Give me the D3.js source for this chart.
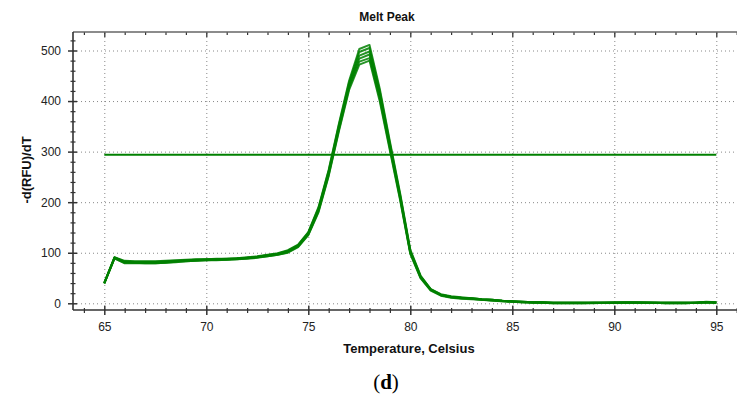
<!DOCTYPE html>
<html>
<head>
<meta charset="utf-8">
<script src="https://cdn.jsdelivr.net/npm/d3@7"></script>
<style>
  html, body { margin: 0; padding: 0; background: #fff; }
  svg { display: block; font-family: "Liberation Sans", Arial, sans-serif; }
</style>
</head>
<body>
<svg id="chart" width="737" height="394"></svg>
<script>
// ---------------- DATA ----------------
const chartTitle = "Melt Peak";
const xAxisTitle = "Temperature, Celsius";
const yAxisTitle = "-d(RFU)/dT";
const caption = "d";

const temperatures = [65,65.5,66,66.5,67,67.5,68,68.5,69,69.5,70,70.5,71,71.5,72,72.5,73,73.5,74,74.5,
  75,75.5,76,76.5,77,77.5,78,78.5,79,79.5,80,80.5,81,81.5,82,82.5,83,83.5,84,84.5,
  85,85.5,86,86.5,87,87.5,88,88.5,89,89.5,90,90.5,91,91.5,92,92.5,93,93.5,94,94.5,95];

const rep1 = [40,91,84,83,83,83,84,85,86,87,87,88,88,89,91,93,96,99,105,116,141,190,264,355,440,503,511,425,320,218,106,55,28,18,14,12,10,8,7,5,4,3,2,2,1,1,1,1,1,1,1,1,1,1,1,1,1,1,1,2,1];
const rep2 = [40,90,83,82,82,82,83,84,85,86,87,87,88,89,90,92,95,98,104,115,140,188,262,352,436,497,505,420,316,215,104,54,28,17,13,11,10,8,7,5,4,3,2,2,1,1,1,1,1,1,2,2,2,1,1,1,1,1,1,2,2];
const rep3 = [41,91,82,81,81,81,82,83,85,86,86,87,87,88,90,92,95,98,103,114,139,186,259,349,432,490,498,415,312,212,102,53,27,17,13,11,10,8,7,5,4,3,2,2,1,1,1,1,1,1,1,1,1,1,1,1,1,1,1,2,1];
const rep4 = [40,90,81,80,80,80,81,83,84,85,86,86,87,88,89,91,94,97,102,113,137,184,257,346,430,484,492,410,310,210,101,52,27,16,12,10,9,7,6,5,3,2,2,1,1,1,1,1,1,1,1,2,2,2,1,1,1,1,1,3,2];
const rep5 = [39,89,80,80,79,79,80,82,83,84,85,86,86,87,89,91,93,96,101,112,136,182,254,343,426,478,485,405,306,207,99,51,26,16,12,10,9,7,6,4,3,2,1,1,0,0,0,0,1,1,1,1,1,1,1,0,0,0,1,2,1];
const rep6 = [40,89,79,79,79,79,80,81,83,84,85,85,86,87,88,90,93,96,100,111,135,180,252,340,422,472,480,400,302,204,98,50,25,15,11,9,8,7,5,4,3,2,1,1,0,0,0,0,0,1,1,1,1,1,1,0,0,0,1,2,1];
const replicates = [rep1, rep2, rep3, rep4, rep5, rep6];

const thresholdValue = 294;
const thresholdRange = [65, 95];

const xMajorTicks = [65,70,75,80,85,90,95];
const xMinorTicks = [64,66,67,68,69,71,72,73,74,76,77,78,79,81,82,83,84,86,87,88,89,91,92,93,94,96];
const yMajorTicks = [0,100,200,300,400,500];
const yMinorTicks = [20,40,60,80,120,140,160,180,220,240,260,280,320,340,360,380,420,440,460,480,520];

// ---------------- LAYOUT ----------------
const svg = d3.select("#chart");
const plotLeft = 73, plotRight = 737, plotTop = 32, plotBottom = 310;

const x = d3.scaleLinear().domain([65, 95]).range([104.3, 716.3]);
const y = d3.scaleLinear().domain([0, 500]).range([303.3, 50.5]);

const green = "#008000";
const sans = "'Liberation Sans', Arial, sans-serif";

// gridlines (dotted)
const grid = svg.append("g").attr("class", "grid");
grid.append("g")
  .attr("transform", `translate(0,${plotBottom})`)
  .call(d3.axisBottom(x).tickValues(xMajorTicks).tickSize(-(plotBottom - plotTop)).tickFormat(""))
  .call(g => g.select(".domain").remove())
  .call(g => g.selectAll("line").attr("stroke", "#888").attr("stroke-width", 1).attr("stroke-dasharray", "1,3"));
grid.append("g")
  .attr("transform", `translate(${plotLeft},0)`)
  .call(d3.axisLeft(y).tickValues(yMajorTicks).tickSize(-(plotRight - plotLeft)).tickFormat(""))
  .call(g => g.select(".domain").remove())
  .call(g => g.selectAll("line").attr("stroke", "#888").attr("stroke-width", 1).attr("stroke-dasharray", "1,3"));

// threshold line
svg.append("line")
  .attr("x1", x(thresholdRange[0])).attr("x2", x(thresholdRange[1]))
  .attr("y1", y(thresholdValue)).attr("y2", y(thresholdValue))
  .attr("stroke", green).attr("stroke-width", 2);

// curves
const line = d3.line().x((d, i) => x(temperatures[i])).y(d => y(d));
svg.append("g").selectAll("path").data(replicates).join("path")
  .attr("d", line)
  .attr("fill", "none")
  .attr("stroke", green)
  .attr("stroke-width", 2)
  .attr("stroke-opacity", 0.85)
  .attr("stroke-linejoin", "round");

// axes
const axisColor = "#333";
function styleTicks(g, w) {
  g.select(".domain").remove();
  g.selectAll("line").attr("stroke", axisColor).attr("stroke-width", w);
}
// bottom axis ticks crossing
svg.append("g").attr("transform", `translate(0,${plotBottom})`)
  .call(d3.axisBottom(x).tickValues(xMajorTicks).tickSize(5).tickFormat(""))
  .call(g => styleTicks(g, 1.5));
svg.append("g").attr("transform", `translate(0,${plotBottom})`)
  .call(d3.axisTop(x).tickValues(xMajorTicks).tickSize(4).tickFormat(""))
  .call(g => styleTicks(g, 1.5));
svg.append("g").attr("transform", `translate(0,${plotBottom})`)
  .call(d3.axisBottom(x).tickValues(xMinorTicks).tickSize(3).tickFormat(""))
  .call(g => styleTicks(g, 1.2));
svg.append("g").attr("transform", `translate(0,${plotBottom})`)
  .call(d3.axisTop(x).tickValues(xMinorTicks).tickSize(2).tickFormat(""))
  .call(g => styleTicks(g, 1.2));
// bottom labels
svg.append("g").attr("transform", `translate(0,${plotBottom})`)
  .call(d3.axisBottom(x).tickValues(xMajorTicks).tickSize(0).tickPadding(12).tickFormat(d3.format("d")))
  .call(g => g.select(".domain").remove())
  .call(g => g.selectAll("text").attr("font-size", 12).attr("fill", "#222").style("font-family", sans));

// top border ticks (pointing inward)
svg.append("g").attr("transform", `translate(0,${plotTop})`)
  .call(d3.axisBottom(x).tickValues(xMajorTicks).tickSize(5).tickFormat(""))
  .call(g => styleTicks(g, 1.3));
svg.append("g").attr("transform", `translate(0,${plotTop})`)
  .call(d3.axisBottom(x).tickValues(xMinorTicks).tickSize(3).tickFormat(""))
  .call(g => styleTicks(g, 1.2));

// left axis ticks crossing
svg.append("g").attr("transform", `translate(${plotLeft},0)`)
  .call(d3.axisLeft(y).tickValues(yMajorTicks).tickSize(5).tickFormat(""))
  .call(g => styleTicks(g, 1.5));
svg.append("g").attr("transform", `translate(${plotLeft},0)`)
  .call(d3.axisRight(y).tickValues(yMajorTicks).tickSize(4).tickFormat(""))
  .call(g => styleTicks(g, 1.5));
svg.append("g").attr("transform", `translate(${plotLeft},0)`)
  .call(d3.axisLeft(y).tickValues(yMinorTicks).tickSize(2.5).tickFormat(""))
  .call(g => styleTicks(g, 1.2));
svg.append("g").attr("transform", `translate(${plotLeft},0)`)
  .call(d3.axisRight(y).tickValues(yMinorTicks).tickSize(2.5).tickFormat(""))
  .call(g => styleTicks(g, 1.2));
svg.append("g").attr("transform", `translate(${plotLeft},0)`)
  .call(d3.axisLeft(y).tickValues(yMajorTicks).tickSize(0).tickPadding(12).tickFormat(d3.format("d")))
  .call(g => g.select(".domain").remove())
  .call(g => g.selectAll("text").attr("font-size", 12).attr("fill", "#222").style("font-family", sans));

// axis lines
svg.append("line").attr("x1", plotLeft).attr("x2", plotRight).attr("y1", plotTop).attr("y2", plotTop)
  .attr("stroke", "#666").attr("stroke-width", 1.5);
svg.append("line").attr("x1", plotLeft).attr("x2", plotRight).attr("y1", plotBottom).attr("y2", plotBottom)
  .attr("stroke", axisColor).attr("stroke-width", 1.6);
svg.append("line").attr("x1", plotLeft).attr("x2", plotLeft).attr("y1", plotTop).attr("y2", plotBottom)
  .attr("stroke", axisColor).attr("stroke-width", 1.6);

// titles
svg.append("text").attr("x", 387).attr("y", 21).attr("text-anchor", "middle")
  .attr("font-size", 12).attr("font-weight", "bold").attr("fill", "#111")
  .style("font-family", "'Liberation Sans Narrow', 'Liberation Sans', Arial, sans-serif")
  .text(chartTitle);
svg.append("text").attr("x", 409).attr("y", 353).attr("text-anchor", "middle")
  .attr("font-size", 13).attr("font-weight", "bold").attr("fill", "#111")
  .style("font-family", sans)
  .text(xAxisTitle);
svg.append("text").attr("transform", "translate(31,170) rotate(-90)").attr("text-anchor", "middle")
  .attr("font-size", 13).attr("font-weight", "bold").attr("fill", "#111")
  .style("font-family", sans)
  .text(yAxisTitle);
const cap = svg.append("text").attr("x", 386).attr("y", 389).attr("text-anchor", "middle")
  .attr("font-size", 21).attr("fill", "#000")
  .style("font-family", "'Liberation Serif', 'DejaVu Serif', serif");
cap.append("tspan").text("(");
cap.append("tspan").attr("font-weight", "bold").text(caption);
cap.append("tspan").text(")");
</script>
</body>
</html>
